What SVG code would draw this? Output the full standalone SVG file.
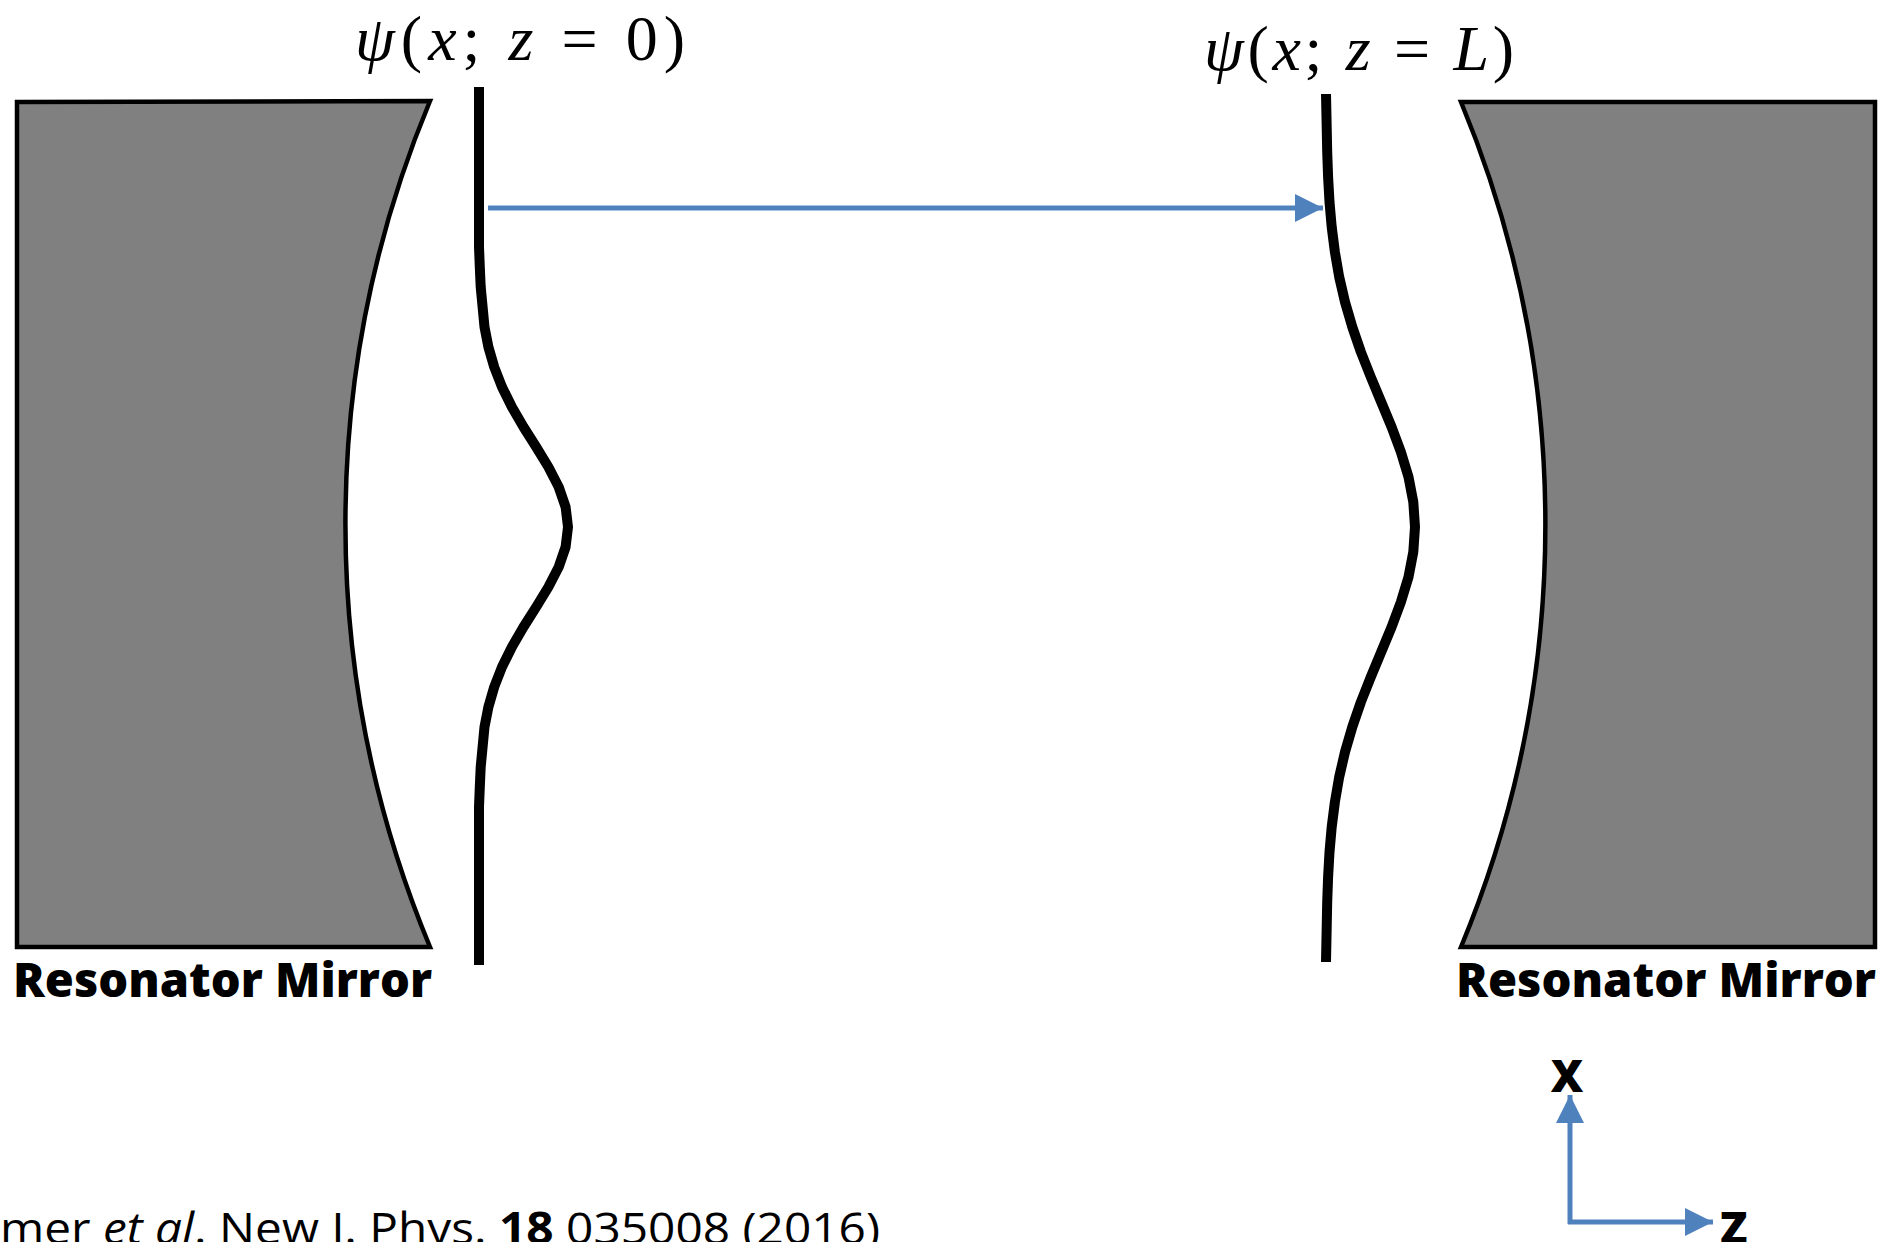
<svg xmlns="http://www.w3.org/2000/svg" width="1898" height="1242" viewBox="0 0 1898 1242">
  <style>
    .mirror { fill: #808080; stroke: #000; stroke-width: 4.5; stroke-linejoin: miter; }
    .wave { fill: none; stroke: #000; stroke-width: 10; stroke-linecap: butt; stroke-linejoin: round; }
    .blue { fill: none; stroke: #4F81BD; stroke-width: 5; }
    .label { font-family: "Open Sans", "Liberation Sans", sans-serif; font-weight: 800; fill: #000; }
    .math { font-family: "Liberation Serif", "DejaVu Serif", serif; fill: #000; font-size: 64px; }
    .it { font-style: italic; }
    .cite { font-family: "Open Sans", "Liberation Sans", sans-serif; fill: #000; font-size: 44px; }
  </style>
  <defs>
    <marker id="ah" viewBox="0 0 28 28" refX="28" refY="14" markerWidth="28" markerHeight="28" markerUnits="userSpaceOnUse" orient="auto">
      <path d="M0,0 L28,14 L0,28 Z" fill="#4F81BD"/>
    </marker>
  </defs>

  <g id="mirror-left">
    <path class="mirror" d="M17,102 L430,101 A1100,1100 0 0 0 430,947 L17,947 Z"/>
    <text class="label" x="13" y="997" font-size="47" textLength="419" lengthAdjust="spacingAndGlyphs">Resonator Mirror</text>
  </g>

  <g id="mirror-right">
    <path class="mirror" d="M1461,102 L1875,102 L1875,947 L1461,947 A1100,1100 0 0 0 1461,102 Z"/>
    <text class="label" x="1456" y="997" font-size="47" textLength="420" lengthAdjust="spacingAndGlyphs">Resonator Mirror</text>
  </g>

  <g id="wave-z0">
    <path class="wave" d="M479,87 L479,247 L479.8,267 L480.7,287 L484.5,327 L488.4,347 L494.2,367 L502,387 L511.9,407 L523.5,427 L536.2,447 L548.4,467 L558.7,487 L565.6,507 L568,527 L565.6,547 L558.7,567 L548.4,587 L536.2,607 L523.5,627 L511.9,647 L502,667 L494.2,687 L488.4,707 L484.5,727 L480.7,767 L479.8,787 L479,807 L479,965"/>
    <text class="math" x="355" y="60" textLength="330" lengthAdjust="spacing"><tspan class="it">ψ</tspan>(<tspan class="it">x</tspan>; <tspan class="it">z</tspan> = 0)</text>
  </g>

  <g id="wave-zL">
    <path class="wave" d="M1326,94 L1326.7,127 L1327.2,152 L1328.1,177 L1329.5,202 L1331.7,227 L1334.9,252 L1339.2,277 L1345,302 L1352.3,327 L1360.9,352 L1370.8,377 L1381.2,402 L1391.6,427 L1400.9,452 L1408.5,477 L1413.3,502 L1415,527 L1413.3,552 L1408.5,577 L1400.9,602 L1391.6,627 L1381.2,652 L1370.8,677 L1360.9,702 L1352.3,727 L1345,752 L1339.2,777 L1334.9,802 L1331.7,827 L1329.5,852 L1328.1,877 L1327.2,902 L1326.7,927 L1326,962"/>
    <text class="math" x="1204" y="70" textLength="310" lengthAdjust="spacing"><tspan class="it">ψ</tspan>(<tspan class="it">x</tspan>; <tspan class="it">z</tspan> = <tspan class="it">L</tspan>)</text>
  </g>

  <g id="connectors">
    <line class="blue" x1="488" y1="208" x2="1323" y2="208" marker-end="url(#ah)"/>
  </g>

  <g id="axes">
    <line class="blue" x1="1570" y1="1224" x2="1570" y2="1095" marker-end="url(#ah)"/>
    <line class="blue" x1="1568" y1="1222" x2="1713" y2="1222" marker-end="url(#ah)"/>
    <text class="label" x="1567" y="1092" font-size="45" text-anchor="middle">X</text>
    <text class="label" x="1720" y="1244" font-size="45">Z</text>
  </g>

  <g id="citation">
    <text class="cite" x="0" y="1244" textLength="880" lengthAdjust="spacingAndGlyphs">mer <tspan font-style="italic">et al</tspan>. New J. Phys. <tspan font-weight="bold">18</tspan> 035008 (2016)</text>
  </g>
</svg>
